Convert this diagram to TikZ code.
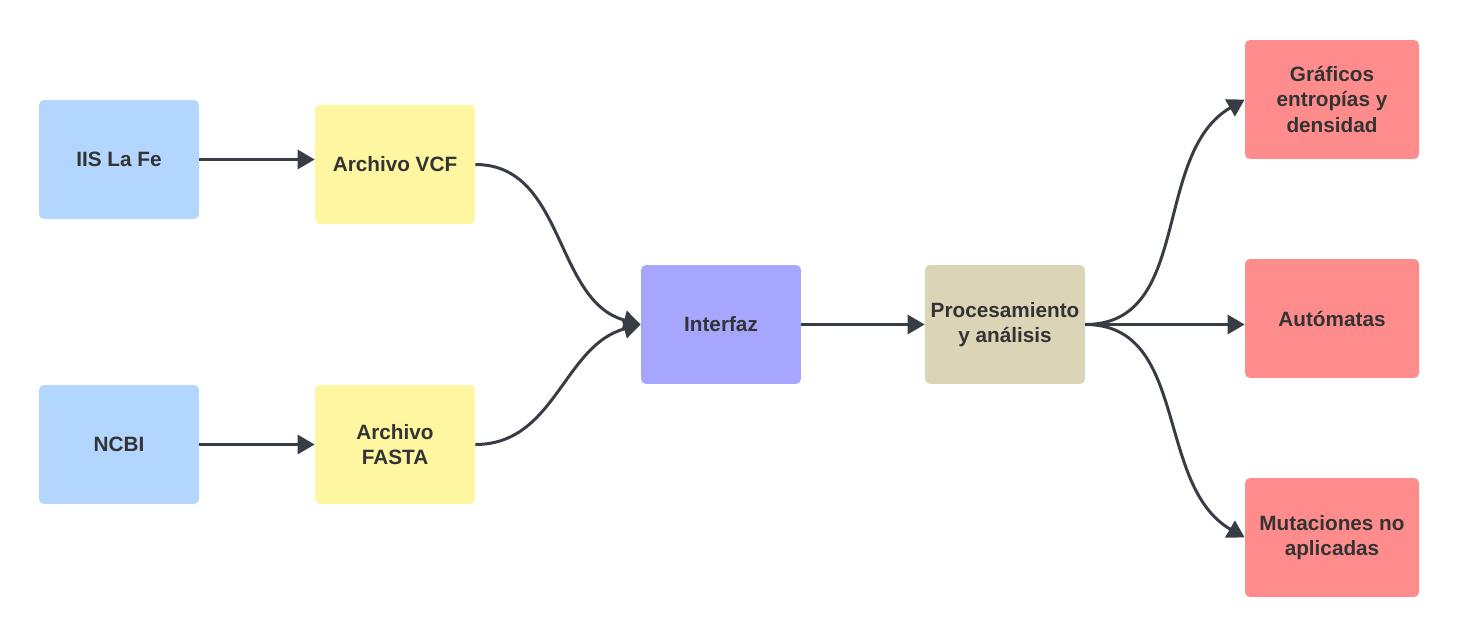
\documentclass[tikz,border=0pt]{standalone}
\usepackage{fontspec}
\setmainfont{Liberation Sans}
\usetikzlibrary{arrows.meta}
\definecolor{boxblue}{HTML}{B3D6FF}
\definecolor{boxyellow}{HTML}{FFF6A1}
\definecolor{boxpurple}{HTML}{A7A6FF}
\definecolor{boxtan}{HTML}{DCD4B6}
\definecolor{boxred}{HTML}{FF8C8C}
\definecolor{linegray}{HTML}{373C45}
\definecolor{textgray}{HTML}{333333}
\begin{document}
\begin{tikzpicture}[x=0.02cm,y=-0.02cm,
  card/.style={rounded corners=0.1cm,minimum width=3.2cm,minimum height=2.38cm,
    align=center,text=textgray,font=\fontsize{11.8}{14.5}\selectfont\bfseries,inner sep=0pt},
  wide/.style={card,minimum width=3.48cm},
  link/.style={draw=linegray,line width=1.7pt,-{Triangle[length=0.34cm,width=0.38cm]}}]
\useasboundingbox (0,0) rectangle (1460,638);
\node[card,fill=boxblue] (iis) at (119,159.5) {IIS La Fe};
\node[card,fill=boxblue] (ncbi) at (119,444.5) {NCBI};
\node[card,fill=boxyellow] (vcf) at (395,164.5) {Archivo VCF};
\node[card,fill=boxyellow] (fasta) at (395,444.5) {Archivo\\FASTA};
\node[card,fill=boxpurple] (inter) at (721,324.5) {Interfaz};
\node[card,fill=boxtan] (proc) at (1005,324.5) {Procesamiento\\y análisis};
\node[wide,fill=boxred] (graf) at (1332,99.5) {Gráficos\\entropías y\\densidad};
\node[wide,fill=boxred] (aut) at (1332,318.5) {Autómatas};
\node[wide,fill=boxred] (mut) at (1332,537.5) {Mutaciones no\\aplicadas};
\draw[link] (iis.east) -- (iis.east -| vcf.west);
\draw[link] (ncbi.east) -- (ncbi.east -| fasta.west);
\draw[link] (vcf.east) to[out=0,in=165] (inter.west);
\draw[link] (fasta.east) to[out=0,in=195] (inter.west);
\draw[link] (inter) -- (proc);
\draw[link] (proc.east) to[out=0,in=210] (graf.west);
\draw[link] (proc.east) -- (proc.east -| aut.west);
\draw[link] (proc.east) to[out=0,in=150] (mut.west);
\end{tikzpicture}
\end{document}
